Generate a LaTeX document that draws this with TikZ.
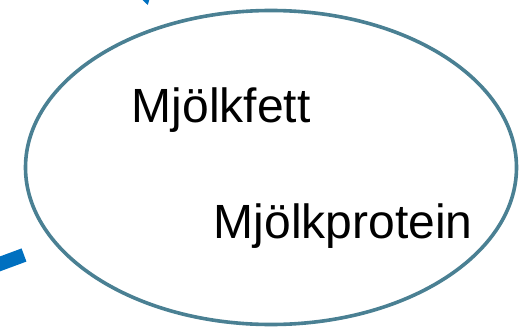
\documentclass[tikz,border=0pt]{standalone}
\usepackage{fontspec}
\setmainfont{Liberation Sans}
\definecolor{ringcol}{HTML}{4A8093}
\definecolor{linkblue}{HTML}{0070C0}
\begin{document}
\begin{tikzpicture}[x=1pt,y=-1pt,
  ring/.style={draw=ringcol,line width=3.6pt,fill=white},
  label/.style={anchor=base west,inner sep=0pt,font=\fontsize{48}{52}\selectfont},
  link/.style={draw=linkblue,line cap=butt}]
\useasboundingbox (0,0) rectangle (519,329);
\clip (0,0) rectangle (519,329);
% fragments of outside connectors
\coordinate (barend) at (24,255);
\coordinate (barstart) at (-30,275);
\draw[link,line width=14pt] (barstart) -- (barend);
\coordinate (t1) at (141.5,-1);
\coordinate (t2) at (149.5,-1);
\coordinate (t3) at (147.8,5);
\fill[linkblue] (t1) -- (t2) -- (t3) -- cycle;
% ellipse
\draw[ring] (271,167.5) ellipse [x radius=245.5, y radius=157];
\node[label] (fett) at (131.5,122.5) {Mjölkfett};
\node[label] (protein) at (213.5,238.5) {Mjölkprotein};
\end{tikzpicture}
\end{document}
